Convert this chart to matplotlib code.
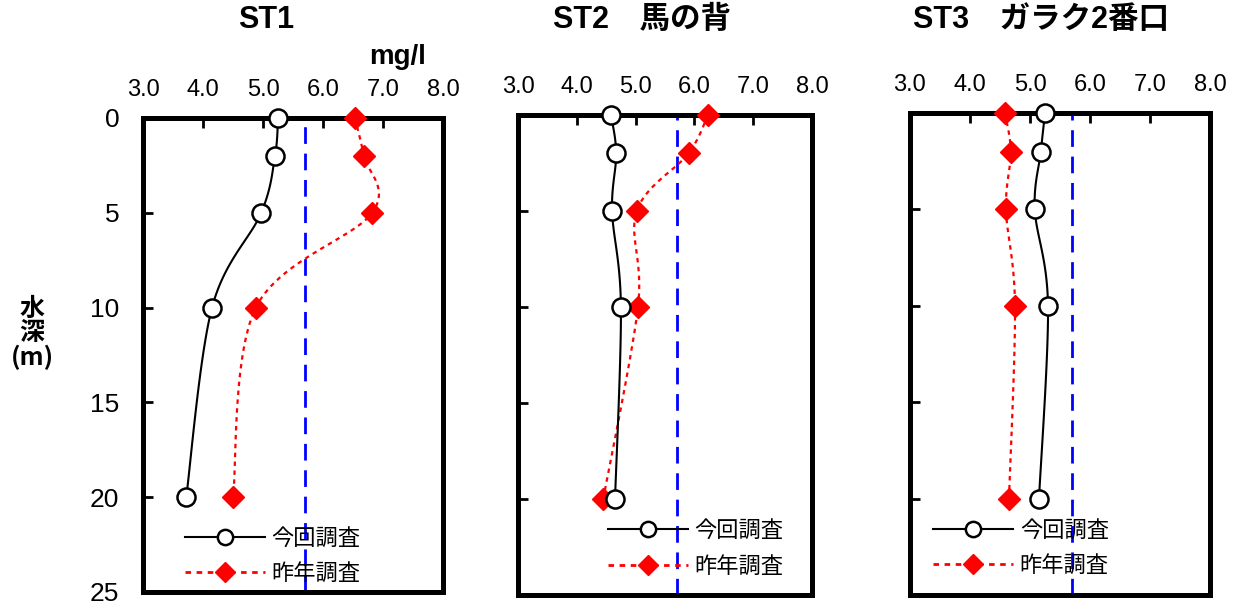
import numpy as np
import matplotlib.pyplot as plt
from matplotlib.lines import Line2D

plt.rcParams['font.family'] = ['Liberation Sans', 'Noto Sans CJK JP', 'DejaVu Sans']

# depth (m)
depth = [0, 2, 5, 10, 20]

# dissolved oxygen mg/l
st1_now = [5.25, 5.2, 4.97, 4.15, 3.72]
st1_last = [6.53, 6.68, 6.82, 4.88, 4.5]
st2_now = [4.58, 4.67, 4.6, 4.75, 4.65]
st2_last = [6.23, 5.9, 5.02, 5.04, 4.45]
st3_now = [5.25, 5.18, 5.08, 5.3, 5.15]
st3_last = [4.58, 4.68, 4.6, 4.75, 4.65]

std_value = 5.7
titles = ['ST1', 'ST2\u3000馬の背', 'ST3\u3000ガラク2番口']
labels = ['今回調査', '昨年調査']
xticks = [3.0, 4.0, 5.0, 6.0, 7.0, 8.0]
yticks = [0, 5, 10, 15, 20, 25]


def smooth(x, y, n=30):
    # excel-like smoothed line (bezier through the points)
    p = np.column_stack([x, y]).astype(float)
    out = []
    for i in range(len(p) - 1):
        p0 = p[i - 1] if i > 0 else p[i]
        p1, p2 = p[i], p[i + 1]
        p3 = p[i + 2] if i + 2 < len(p) else p[i + 1]
        c1 = p1 + (p2 - p0) / 6
        c2 = p2 - (p3 - p1) / 6
        t = np.linspace(0, 1, n)[:, None]
        seg = (1 - t)**3 * p1 + 3 * (1 - t)**2 * t * c1 + 3 * (1 - t) * t**2 * c2 + t**3 * p2
        out.append(seg if i == 0 else seg[1:])
    s = np.vstack(out)
    return s[:, 0], s[:, 1]


fig = plt.figure(figsize=(12.34, 6.01), dpi=100)

positions = [[0.1159, 0.015, 0.2431, 0.7887],
             [0.4198, 0.010, 0.2382, 0.7987],
             [0.7374, 0.010, 0.2432, 0.8020]]
data = [(st1_now, st1_last), (st2_now, st2_last), (st3_now, st3_last)]
title_x = [0.216, 0.520, 0.844]
leg_anchor = [(0.14, 0.137), (0.306, 0.158), (0.077, 0.158)]

red_ls = (0, (2, 2))

for i in range(3):
    ax = fig.add_axes(positions[i])
    now, last = data[i]

    ax.axvline(std_value, color='blue', lw=2, dashes=(6, 3.5), zorder=1)

    xs, ys = smooth(last, depth)
    ax.plot(xs, ys, color='red', lw=1.6, linestyle=red_ls, zorder=2)
    ax.plot(last, depth, linestyle='none', marker='D', ms=11, color='red', zorder=3,
            clip_on=False)

    xs, ys = smooth(now, depth)
    ax.plot(xs, ys, color='black', lw=1.5, zorder=2)
    ax.plot(now, depth, linestyle='none', marker='o', ms=13, mfc='white',
            mec='black', mew=1.8, zorder=4, clip_on=False)

    ax.set_xlim(3, 8)
    ax.set_ylim(25, 0)
    ax.xaxis.tick_top()
    ax.set_xticks(xticks)
    ax.set_xticklabels(['%.1f' % v for v in xticks])
    ax.set_yticks(yticks)
    ax.tick_params(direction='in', length=7, width=2, color='black')
    ax.tick_params(axis='x', labelsize=17, pad=12)
    ax.tick_params(axis='y', labelsize=19, pad=17)
    if i > 0:
        ax.tick_params(axis='y', labelleft=False)
    for sp in ax.spines.values():
        sp.set_linewidth(3.6)

    h1 = Line2D([], [], color='black', lw=1.5, marker='o', ms=11, mfc='white',
                mec='black', mew=1.8)
    h2 = Line2D([], [], color='red', lw=2, linestyle=(0, (2, 2)), marker='D', ms=10)
    leg = ax.legend([h1, h2], labels, loc='upper left', bbox_to_anchor=leg_anchor[i],
                    frameon=False, handlelength=3.6, handletextpad=0.3,
                    labelspacing=0.55, borderpad=0, borderaxespad=0,
                    prop={'family': ['Noto Sans CJK JP'], 'size': 16})
    leg.set_zorder(5)

    fig.text(title_x[i], 0.967, titles[i], ha='center', va='center', fontsize=22,
             fontweight='bold')

fig.text(0.322, 0.905, 'mg/l', ha='center', va='center', fontsize=20, fontweight='bold')
fig.text(0.026, 0.445, '水\n深\n(m)', ha='center', va='center', fontsize=18,
         fontweight='bold', linespacing=1.0, family=['Noto Sans CJK JP'])

fig.savefig('out.png', dpi=100)
